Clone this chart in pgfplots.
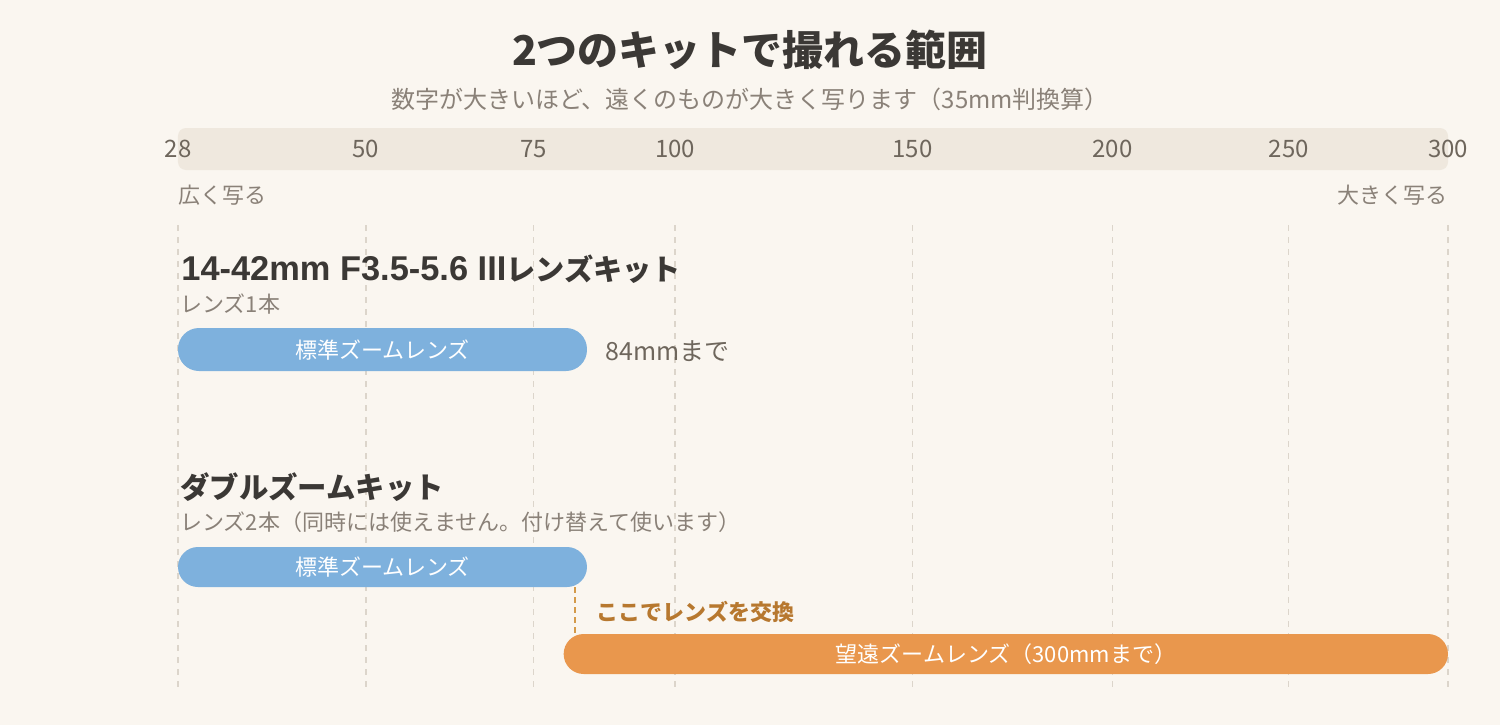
\documentclass[border=0pt]{standalone}
\usepackage{pgfplots}
\pgfplotsset{compat=1.18}
\usepackage{fontspec}
\setmainfont{Noto Sans CJK JP}
\newfontfamily\latinhead{Liberation Sans}
\definecolor{bg}{HTML}{FAF6F0}
\definecolor{band}{HTML}{EFE8DE}
\definecolor{ticktxt}{HTML}{6E665C}
\definecolor{subtxt}{HTML}{8A8178}
\definecolor{dark}{HTML}{3B3835}
\definecolor{barblue}{HTML}{7EB1DD}
\definecolor{barorange}{HTML}{E9974D}
\definecolor{orangetxt}{HTML}{B7782F}
\definecolor{orangeline}{HTML}{D49A4A}
\definecolor{gridc}{HTML}{DCD5CB}
\begin{document}
\begin{tikzpicture}
\fill[bg] (-89pt,-18.5pt) rectangle (661pt,344pt);
\fill[band, rounded corners=4pt] (0pt,259pt) rectangle (635pt,280pt);
\node[font=\fontsize{20.5pt}{24pt}\selectfont\bfseries, text=dark, inner sep=0pt] at (286pt,319pt) {2つのキットで撮れる範囲};
\node[font=\fontsize{12pt}{14pt}\selectfont, text=subtxt, inner sep=0pt] at (286pt,294.5pt) {数字が大きいほど、遠くのものが大きく写ります（35mm判換算）};
\begin{axis}[
  at={(0pt,0pt)}, anchor=south west,
  scale only axis, width=635pt, height=231.5pt,
  xmin=28, xmax=300, ymin=225, ymax=688, y dir=reverse,
  x coord trafo/.code={\pgfmathparse{sqrt(#1)}},
  x coord inv trafo/.code={\pgfmathparse{(#1)^2}},
  axis line style={draw=none},
  tick style={draw=none},
  xtick={28,50,75,100,150,200,250,300},
  xticklabels={},
  ytick=\empty,
  xmajorgrids,
  grid style={gridc, line width=0.75pt, dash pattern=on 3pt off 3pt},
  clip=false,
]
\pgfplotsinvokeforeach{28,50,75,100,150,200,250,300}{
  \node[font=\fontsize{12pt}{14pt}\selectfont, text=ticktxt, inner sep=0pt] at (axis cs:#1,149) {#1};
}
\node[font=\fontsize{11pt}{13pt}\selectfont, text=subtxt, anchor=west, inner sep=0pt] at (axis cs:28,195) {広く写る};
\node[font=\fontsize{11pt}{13pt}\selectfont, text=subtxt, anchor=east, inner sep=0pt] at (axis cs:300,195) {大きく写る};

% kit 1
\node[font=\fontsize{14.6pt}{17pt}\selectfont\bfseries, text=dark, anchor=base west, inner sep=0pt, xshift=1.5pt] at (axis cs:28,280) {{\latinhead\bfseries\fontsize{17.2pt}{17pt}\selectfont 14-42mm F3.5-5.6 III}レンズキット};
\node[font=\fontsize{11pt}{13pt}\selectfont, text=subtxt, anchor=west, inner sep=0pt, xshift=1pt] at (axis cs:28,304) {レンズ1本};
\addplot[draw=none, fill=barblue, rounded corners=10.5pt] coordinates {(28,328) (84,328) (84,371) (28,371)} -- cycle;
\node[font=\fontsize{11pt}{13pt}\selectfont, text=white, inner sep=0pt] at (axis cs:52.25,350) {標準ズームレンズ};
\node[font=\fontsize{12.5pt}{14pt}\selectfont, text=ticktxt, anchor=west, inner sep=0pt, xshift=9pt] at (axis cs:84,351) {84mmまで};

% kit 2
\node[font=\fontsize{14.7pt}{17pt}\selectfont\bfseries, text=dark, anchor=west, inner sep=0pt, xshift=1pt] at (axis cs:28,487) {ダブルズームキット};
\node[font=\fontsize{11pt}{13pt}\selectfont, text=subtxt, anchor=west, inner sep=0pt, xshift=1pt] at (axis cs:28,522) {レンズ2本（同時には使えません。付け替えて使います）};
\addplot[draw=none, fill=barblue, rounded corners=10pt] coordinates {(28,547) (84,547) (84,587) (28,587)} -- cycle;
\node[font=\fontsize{11pt}{13pt}\selectfont, text=white, inner sep=0pt] at (axis cs:52.25,567) {標準ズームレンズ};
\addplot[orangeline, line width=1pt, dash pattern=on 3pt off 2pt] coordinates {(82,587) (82,634)};
\node[font=\fontsize{11pt}{13pt}\selectfont\bfseries, text=orangetxt, anchor=west, inner sep=0pt, xshift=10.5pt] at (axis cs:82,612) {ここでレンズを交換};
\addplot[draw=none, fill=barorange, rounded corners=10pt] coordinates {(80,634) (300,634) (300,674) (80,674)} -- cycle;
\node[font=\fontsize{11pt}{13pt}\selectfont, text=white, inner sep=0pt] at (axis cs:172.5,654) {望遠ズームレンズ（300mmまで）};
\end{axis}
\end{tikzpicture}
\end{document}
